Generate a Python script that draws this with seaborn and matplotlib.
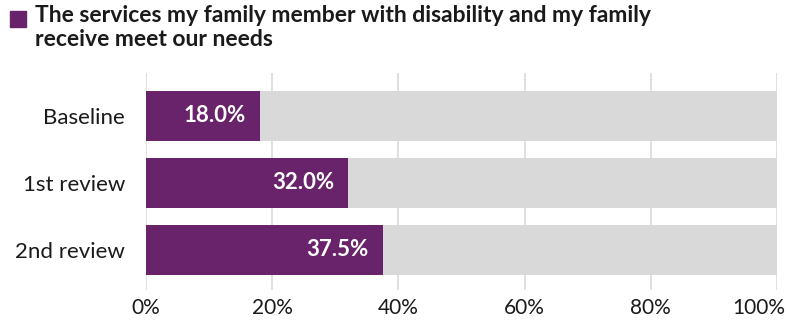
import matplotlib
matplotlib.use("Agg")
import matplotlib.pyplot as plt
import matplotlib.transforms as mtransforms
import seaborn as sns
import pandas as pd
from matplotlib.patches import Rectangle

stages = ["Baseline", "1st review", "2nd review"]
agree_pct = [18.0, 32.0, 37.5]
full_scale = [100, 100, 100]
tick_values = [0, 20, 40, 60, 80, 100]
tick_labels = ["0%", "20%", "40%", "60%", "80%", "100%"]
title_text = "The services my family member with disability and my family\nreceive meet our needs"

PURPLE = "#68236A"
GREY = "#D9D9D9"

sns.set_theme(style="white")
plt.rcParams["font.family"] = ["Lato", "DejaVu Sans"]

df = pd.DataFrame({"stage": stages, "pct": agree_pct, "full": full_scale})

fig = plt.figure(figsize=(7.88, 3.22), dpi=100)
ax = fig.add_axes([0.1853, 0.0994, 0.8007, 0.6736])

sns.barplot(data=df, y="stage", x="full", orient="h", color=GREY,
            width=0.75, ax=ax, saturation=1, zorder=2, linewidth=0)
sns.barplot(data=df, y="stage", x="pct", orient="h", color=PURPLE,
            width=0.75, ax=ax, saturation=1, zorder=3, linewidth=0)

for i, v in enumerate(agree_pct):
    ax.text(v - 2.2, i, f"{v:.1f}%", ha="right", va="center",
            color="white", fontsize=16, fontweight="bold", zorder=4)

ax.set_xlim(0, 100)
ax.set_ylim(2.6, -0.64)
ax.set_xticks(tick_values)
ax.set_xticklabels(tick_labels, fontsize=15, color="#1a1a1a")
ax.tick_params(axis="y", labelsize=16, colors="#1a1a1a", length=0, pad=15)
ax.tick_params(axis="x", length=0, pad=6)
ax.set_xlabel("")
ax.set_ylabel("")
ax.grid(axis="x", color="#D9D9D9", linewidth=1.2, zorder=0)
ax.set_axisbelow(True)
for s in ax.spines.values():
    s.set_visible(False)

# keep the last tick label inside the figure edge
last = ax.get_xticklabels()[-1]
last.set_ha("right")
last.set_transform(last.get_transform() +
                   mtransforms.ScaledTranslation(8 / 100, 0, fig.dpi_scale_trans))

fig.text(35 / 788, 1 - 5 / 322, title_text, ha="left", va="top",
         fontsize=16.5, fontweight="bold", color="#1a1a1a", linespacing=1.15)
fig.patches.append(Rectangle((10 / 788, 1 - 27 / 322), 16 / 788, 16 / 322,
                             transform=fig.transFigure, color=PURPLE, figure=fig))

fig.savefig("out.png", dpi=100)
